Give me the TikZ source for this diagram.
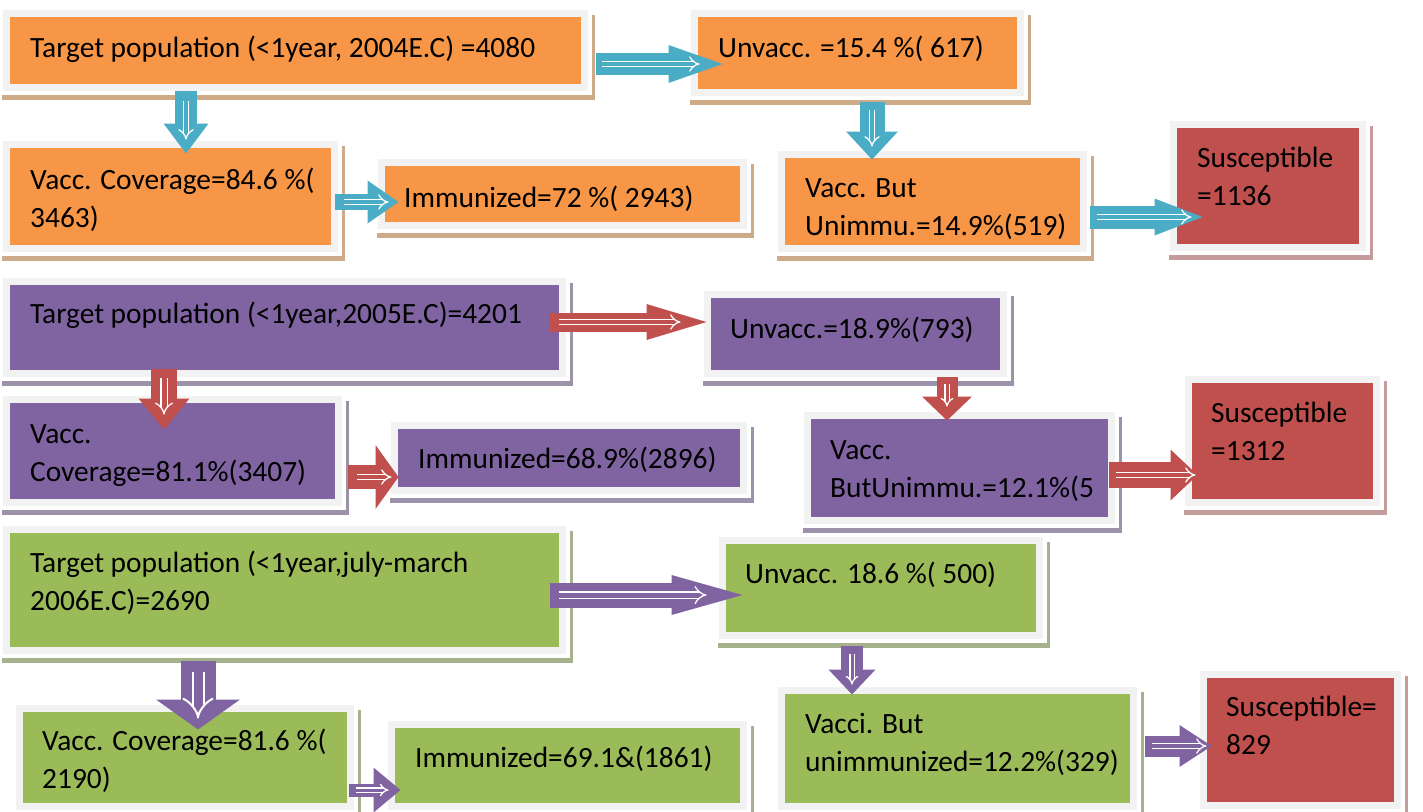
\documentclass[tikz,border=0pt]{standalone}
\usepackage{fontspec}
\setmainfont{Carlito}
\usetikzlibrary{arrows.meta,fit}
\definecolor{orangeC}{HTML}{F79646}
\definecolor{purpleC}{HTML}{8064A2}
\definecolor{greenC}{HTML}{9BBB59}
\definecolor{redC}{HTML}{C0504D}
\definecolor{blueC}{HTML}{4BACC6}
\definecolor{frameC}{HTML}{F2F2F2}
\definecolor{shO}{HTML}{CDAA88}
\definecolor{shP}{HTML}{9C93AA}
\definecolor{shG}{HTML}{A6B18E}
\definecolor{shR}{HTML}{C49C9C}
\newcommand\conn[9]{%
  \draw[blk={#1}{#2}{#3}{#4}] #5 -- #6;
  \draw[inr=#1, shorten <=#7, shorten >=#8, #9] #5 -- #6;
}
\begin{document}
\begin{tikzpicture}[x=1pt,y=-1pt,
  box/.style={draw=frameC, line width=7pt, fill=#1, inner sep=3.5pt, rectangle},
  lbl/.style={font=\fontsize{29.4}{37.5}\selectfont, inner sep=0pt, anchor=base west, align=left, text=black},
  blk/.style n args={4}{draw=#1, line width=#2, -{Triangle[length=#4, width=#3, line width=0pt]}},
  inr/.style={draw=white, double=#1, line width=1.3pt, double distance=4pt, -{Implies[length=8pt, width=15pt]}},
]
\useasboundingbox (0,0) rectangle (1423,811);
% ---------- boxes ----------
\node[box=orangeC, fit={(10,17) (581,84)}] (A) {};
\node[box=orangeC, fit={(10,148) (331,245)}] (B) {};
\node[box=orangeC, fit={(385,166) (740,222)}] (C) {};
\node[box=orangeC, fit={(698,17) (1017,89)}] (D) {};
\node[box=orangeC, fit={(785,158) (1080,245)}] (E) {};
\node[box=redC, fit={(1177,128) (1359,244)}] (F) {};
\node[box=purpleC, fit={(10,285) (559,370)}] (G) {};
\node[box=purpleC, fit={(711,298) (1000,370)}] (H) {};
\node[box=purpleC, fit={(10,403) (335,499)}] (I) {};
\node[box=purpleC, fit={(398,429) (740,487)}] (J) {};
\node[box=purpleC, fit={(811,419) (1108,517)}] (K) {};
\node[box=redC, fit={(1192,383) (1373,499)}] (L) {};
\node[box=greenC, fit={(10,533) (559,647)}] (M) {};
\node[box=greenC, fit={(726,544) (1036,632)}] (N) {};
\node[box=greenC, fit={(23,712) (347,803)}] (O) {};
\node[box=greenC, fit={(395,728) (740,803)}] (P) {};
\node[box=greenC, fit={(785,694) (1130,803)}] (Q) {};
\node[box=redC, fit={(1207,678) (1394,802)}] (R) {};
% ---------- shadows ----------
\foreach \n/\c in {A/shO,B/shO,C/shO,D/shO,E/shO,F/shR,G/shP,H/shP,I/shP,J/shP,K/shP,L/shR,M/shG,N/shG,O/shG,P/shG,Q/shG,R/shR}{
  \fill[\c] ([xshift=-1.5pt,yshift=-3.5pt]\n.south west) rectangle ([xshift=6.5pt,yshift=-8.5pt]\n.south east);
  \fill[\c] ([xshift=3.5pt,yshift=-5pt]\n.north east) rectangle ([xshift=6.5pt,yshift=-3.5pt]\n.south east);
}
% ---------- labels (base = baseline of last line) ----------
\node[lbl] (tA) at (30,57) {Target population (<1year, 2004E.C) =4080};
\node[lbl] (tB) at (30,227) {Vacc. Coverage=84.6 \%(\\3463)};
\node[lbl] (tC) at (404,207) {Immunized=72 \%( 2943)};
\node[lbl] (tD) at (718,57) {Unvacc. =15.4 \%( 617)};
\node[lbl] (tE) at (805,235) {Vacc. But\\Unimmu.=14.9\%(519)};
\node[lbl] (tF) at (1197,205) {Susceptible\\=1136};
\node[lbl] (tG) at (30,323) {Target population (<1year,2005E.C)=4201};
\node[lbl] (tH) at (730,338) {Unvacc.=18.9\%(793)};
\node[lbl] (tI) at (30,481) {Vacc.\\Coverage=81.1\%(3407)};
\node[lbl] (tJ) at (418,468) {Immunized=68.9\%(2896)};
\node[lbl] (tK) at (830,497) {Vacc.\\ButUnimmu.=12.1\%(5};
\node[lbl] (tL) at (1211,460) {Susceptible\\=1312};
\node[lbl] (tM) at (30,610) {Target population (<1year,july-march\\2006E.C)=2690};
\node[lbl] (tN) at (745,583) {Unvacc. 18.6 \%( 500)};
\node[lbl] (tO) at (42,788) {Vacc. Coverage=81.6 \%(\\2190)};
\node[lbl] (tP) at (415,767) {Immunized=69.1\&(1861)};
\node[lbl] (tQ) at (805,771) {Vacci. But\\unimmunized=12.2\%(329)};
\node[lbl] (tR) at (1226,754) {Susceptible=\\829};
% ---------- arrows ----------
\conn{blueC}{22pt}{38pt}{54pt}{([shift={(7.5,13.5)}]A.east)}{([shift={(31.5,11)}]D.west)}{6pt}{23pt}{}
\conn{blueC}{22pt}{45pt}{30pt}{([shift={(-109.5,-0.5)}]A.south)}{([shift={(15.5,12.5)}]B.north)}{10pt}{14pt}{}
\conn{blueC}{16pt}{43pt}{31pt}{([shift={(-3.5,5.5)}]B.east)}{([shift={(20.5,8)}]C.west)}{9pt}{10pt}{}
\conn{blueC}{25pt}{52pt}{28pt}{([shift={(14.5,5.5)}]D.south)}{([shift={(-60.5,8.5)}]E.north)}{8pt}{13pt}{}
\conn{blueC}{23pt}{37pt}{48pt}{([shift={(2.5,15.5)}]E.east)}{([shift={(32.5,31)}]F.west)}{7pt}{11pt}{}
\conn{redC}{19pt}{36pt}{60pt}{([shift={(-16.5,-5.5)}]G.east)}{([shift={(2.5,-12)}]H.west)}{9pt}{26pt}{}
\conn{redC}{26pt}{51pt}{31pt}{([shift={(-120.5,-8.5)}]G.south)}{([shift={(-8.5,33.5)}]I.north)}{9pt}{15pt}{double distance=5pt}
\conn{redC}{24pt}{64pt}{23pt}{([shift={(5.5,26)}]I.east)}{([shift={(7.5,19)}]J.west)}{9pt}{7pt}{}
\conn{redC}{21pt}{50pt}{24pt}{([shift={(91.5,-0.5)}]H.south)}{([shift={(-12.5,8.5)}]K.north)}{7pt}{14pt}{double distance=3pt, -{Implies[length=6pt, width=11pt]}}
\conn{redC}{26pt}{51pt}{27pt}{([shift={(-6.5,7)}]K.east)}{([shift={(12.5,34)}]L.west)}{7pt}{2pt}{-{Implies[length=10pt, width=18pt]}}
\conn{purpleC}{25pt}{40pt}{71pt}{([shift={(-16.5,5)}]M.east)}{([shift={(23.5,7)}]N.west)}{9pt}{36pt}{double distance=5pt, -{Implies[length=12pt, width=20pt]}}
\conn{purpleC}{35pt}{84pt}{30pt}{([shift={(-86.5,6.5)}]M.south)}{([shift={(13,24.5)}]O.north)}{11pt}{11pt}{double distance=9pt, line width=2pt, -{Implies[length=14pt, width=34pt]}}
\conn{purpleC}{13pt}{45pt}{27pt}{([shift={(-5.5,32.5)}]O.east)}{([shift={(12.5,24.5)}]P.west)}{7pt}{12pt}{double distance=3pt, -{Implies[length=6pt, width=11pt]}}
\conn{purpleC}{22pt}{47pt}{25pt}{([shift={(-29,6.5)}]N.south)}{([shift={(-105.5,7.5)}]Q.north)}{8pt}{10pt}{double distance=3pt, -{Implies[length=6pt, width=11pt]}}
\conn{purpleC}{21pt}{42pt}{32pt}{([shift={(7.5,-2.5)}]Q.east)}{([shift={(11.5,6)}]R.west)}{7pt}{5pt}{}
\end{tikzpicture}
\end{document}
